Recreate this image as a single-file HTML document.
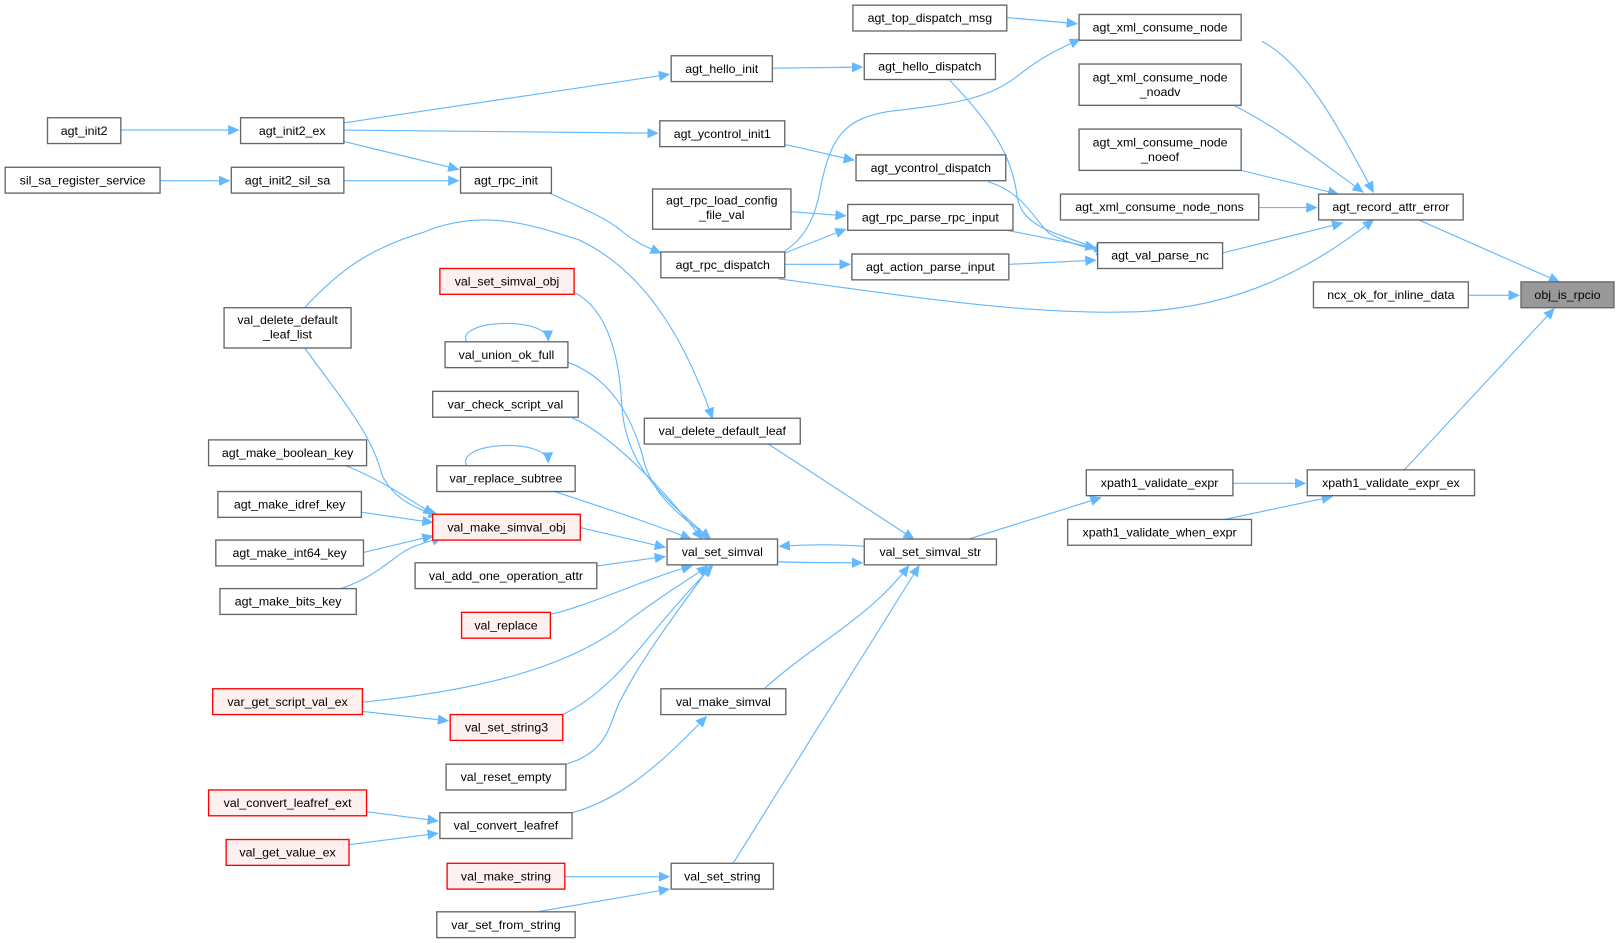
<!DOCTYPE html>
<html><head><meta charset="utf-8"><style>
html,body{margin:0;padding:0;background:#fff;}
svg{display:block;}
text{font-family:"Liberation Sans",Arial,sans-serif;font-size:12px;fill:#000;}
.n{fill:#fff;stroke:#666;stroke-width:1.3;}
.r{fill:#fff0f0;stroke:#f00;stroke-width:1.3;}
.g{fill:#999;stroke:#666;stroke-width:1.3;}
.e{fill:none;stroke:#63b8ff;stroke-width:1.1;marker-end:url(#a);}
</style></head><body>
<svg width="1616" height="943" viewBox="0 0 1565 913.2" preserveAspectRatio="none" xmlns="http://www.w3.org/2000/svg">
<defs><marker id="a" markerWidth="11" markerHeight="10" refX="10" refY="5" orient="auto" markerUnits="userSpaceOnUse"><path d="M0,0 L11,5 L0,10 Z" fill="#63b8ff"/></marker></defs>
<g>
<path class="e" d="M117,126 L231,126"/>
<path class="e" d="M333,119 L648,72"/>
<path class="e" d="M333,126 L637,129"/>
<path class="e" d="M333,137 L444,164"/>
<path class="e" d="M155,175 L222,175"/>
<path class="e" d="M333,175 L444,175"/>
<path class="e" d="M748,66 L835,65"/>
<path class="e" d="M760,140 C790,146 810,152 827,155"/>
<path class="e" d="M530,186 C560,200 585,210 600,222 C615,235 628,240 640,245"/>
<path class="e" d="M766,205 L819,209"/>
<path class="e" d="M760,245 L819,222"/>
<path class="e" d="M760,256 L823,256"/>
<path class="e" d="M760,243 C780,230 790,210 795,180 C805,130 820,115 860,108 C930,100 960,95 990,70 C1010,55 1020,50 1046,38"/>
<path class="e" d="M754,270 C900,290 1000,305 1100,302 C1200,298 1270,260 1330,213"/>
<path class="e" d="M975,17 L1043,23"/>
<path class="e" d="M920,78 C960,120 980,150 985,190 C990,220 1020,225 1070,243"/>
<path class="e" d="M957,176 C990,186 1000,210 1015,225 C1025,232 1045,238 1072,245"/>
<path class="e" d="M975,223 L1061,240"/>
<path class="e" d="M977,256 L1061,252"/>
<path class="e" d="M1222,40 C1260,60 1290,110 1330,186"/>
<path class="e" d="M1195,102 C1240,125 1270,150 1320,186"/>
<path class="e" d="M1202,165 L1296,188"/>
<path class="e" d="M1219,201 L1275,201"/>
<path class="e" d="M1184,245 L1300,216"/>
<path class="e" d="M1374,213 L1510,273"/>
<path class="e" d="M1422,286 L1471,286"/>
<path class="e" d="M1360,455 L1505,299"/>
<path class="e" d="M1194,468 L1264,468"/>
<path class="e" d="M1186,503 L1290,481"/>
<path class="e" d="M938,522 L1066,482"/>
<path class="e" d="M837,529 C810,527 785,527 755,529"/>
<path class="e" d="M753,544 C780,545 810,545 835,545"/>
<path class="e" d="M744,430 L885,522"/>
<path class="e" d="M295,298 C330,260 360,240 410,225 C470,200 520,220 560,232 C620,260 660,320 690,405"/>
<path class="e" d="M295,337 C330,385 360,420 370,460 C380,480 395,490 425,500"/>
<path class="e" d="M556,283 C590,300 600,350 602,390 C605,450 640,480 688,522"/>
<path class="e" d="M548,350 C590,365 610,400 622,440 C630,480 660,500 688,522"/>
<path class="e" d="M553,404 C590,420 640,470 680,522"/>
<path class="e" d="M537,476 C580,490 640,510 669,522"/>
<path class="e" d="M452,331 C440,310 530,305 531,330"/>
<path class="e" d="M452,451 C440,428 530,423 531,448"/>
<path class="e" d="M335,451 C370,465 390,480 420,498"/>
<path class="e" d="M350,496 L419,506"/>
<path class="e" d="M352,535 L419,519"/>
<path class="e" d="M330,570 C360,560 375,545 390,535 C400,528 415,525 428,520"/>
<path class="e" d="M562,511 L644,530"/>
<path class="e" d="M578,548 L644,539"/>
<path class="e" d="M533,595 C575,585 620,562 670,548"/>
<path class="e" d="M351,680 C450,670 550,650 610,600 C650,570 670,560 685,548"/>
<path class="e" d="M351,689 L434,698"/>
<path class="e" d="M545,692 C600,665 620,620 690,548"/>
<path class="e" d="M548,740 C590,728 590,700 600,680 C620,640 650,600 688,548"/>
<path class="e" d="M740,667 C790,622 840,600 880,548"/>
<path class="e" d="M554,787 C600,775 640,740 684,694"/>
<path class="e" d="M355,786 L424,795"/>
<path class="e" d="M338,818 L424,807"/>
<path class="e" d="M547,849 L648,849"/>
<path class="e" d="M520,883 L648,861"/>
<path class="e" d="M710,836 L890,548"/>
</g>
<g>
<rect class="n" x="46" y="114" width="71" height="25"/><text x="81.5" y="130.5" text-anchor="middle">agt_init2</text>
<rect class="n" x="233" y="114" width="100" height="25"/><text x="283" y="130.5" text-anchor="middle">agt_init2_ex</text>
<rect class="n" x="5" y="162" width="150" height="25"/><text x="80" y="178.5" text-anchor="middle">sil_sa_register_service</text>
<rect class="n" x="224" y="162" width="109" height="25"/><text x="278.5" y="178.5" text-anchor="middle">agt_init2_sil_sa</text>
<rect class="n" x="650" y="54" width="98" height="25"/><text x="699" y="70.5" text-anchor="middle">agt_hello_init</text>
<rect class="n" x="639" y="117" width="121" height="25"/><text x="699.5" y="133.5" text-anchor="middle">agt_ycontrol_init1</text>
<rect class="n" x="446" y="162" width="88" height="25"/><text x="490" y="178.5" text-anchor="middle">agt_rpc_init</text>
<rect class="n" x="632" y="183" width="134" height="39"/><text x="699" y="198" text-anchor="middle">agt_rpc_load_config</text><text x="699" y="212" text-anchor="middle">_file_val</text>
<rect class="n" x="640" y="244" width="120" height="25"/><text x="700" y="260.5" text-anchor="middle">agt_rpc_dispatch</text>
<rect class="r" x="426" y="260" width="130" height="25"/><text x="491" y="276.5" text-anchor="middle">val_set_simval_obj</text>
<rect class="n" x="217" y="298" width="123" height="39"/><text x="278.5" y="314" text-anchor="middle">val_delete_default</text><text x="278.5" y="328" text-anchor="middle">_leaf_list</text>
<rect class="n" x="431" y="331" width="119" height="25"/><text x="490.5" y="347.5" text-anchor="middle">val_union_ok_full</text>
<rect class="n" x="419" y="379" width="141" height="25"/><text x="489.5" y="395.5" text-anchor="middle">var_check_script_val</text>
<rect class="n" x="624" y="405" width="151" height="25"/><text x="699.5" y="421.5" text-anchor="middle">val_delete_default_leaf</text>
<rect class="n" x="202" y="426" width="153" height="25"/><text x="278.5" y="442.5" text-anchor="middle">agt_make_boolean_key</text>
<rect class="n" x="423" y="451" width="134" height="25"/><text x="490" y="467.5" text-anchor="middle">var_replace_subtree</text>
<rect class="n" x="211" y="476" width="139" height="25"/><text x="280.5" y="492.5" text-anchor="middle">agt_make_idref_key</text>
<rect class="r" x="419" y="498" width="143" height="25"/><text x="490.5" y="514.5" text-anchor="middle">val_make_simval_obj</text>
<rect class="n" x="646" y="522" width="107" height="25"/><text x="699.5" y="538.5" text-anchor="middle">val_set_simval</text>
<rect class="n" x="209" y="523" width="143" height="25"/><text x="280.5" y="539.5" text-anchor="middle">agt_make_int64_key</text>
<rect class="n" x="402" y="545" width="176" height="25"/><text x="490" y="561.5" text-anchor="middle">val_add_one_operation_attr</text>
<rect class="n" x="213" y="570" width="132" height="25"/><text x="279" y="586.5" text-anchor="middle">agt_make_bits_key</text>
<rect class="r" x="447" y="593" width="86" height="25"/><text x="490" y="609.5" text-anchor="middle">val_replace</text>
<rect class="r" x="206" y="667" width="145" height="25"/><text x="278.5" y="683.5" text-anchor="middle">var_get_script_val_ex</text>
<rect class="n" x="640" y="667" width="121" height="25"/><text x="700.5" y="683.5" text-anchor="middle">val_make_simval</text>
<rect class="r" x="436" y="692" width="109" height="25"/><text x="490.5" y="708.5" text-anchor="middle">val_set_string3</text>
<rect class="n" x="432" y="740" width="116" height="25"/><text x="490" y="756.5" text-anchor="middle">val_reset_empty</text>
<rect class="r" x="202" y="765" width="153" height="25"/><text x="278.5" y="781.5" text-anchor="middle">val_convert_leafref_ext</text>
<rect class="n" x="426" y="787" width="128" height="25"/><text x="490" y="803.5" text-anchor="middle">val_convert_leafref</text>
<rect class="r" x="219" y="813" width="119" height="25"/><text x="278.5" y="829.5" text-anchor="middle">val_get_value_ex</text>
<rect class="r" x="433" y="836" width="114" height="25"/><text x="490" y="852.5" text-anchor="middle">val_make_string</text>
<rect class="n" x="650" y="836" width="99" height="25"/><text x="699.5" y="852.5" text-anchor="middle">val_set_string</text>
<rect class="n" x="423" y="883" width="134" height="25"/><text x="490" y="899.5" text-anchor="middle">var_set_from_string</text>
<rect class="n" x="826" y="5" width="149" height="25"/><text x="900.5" y="21.5" text-anchor="middle">agt_top_dispatch_msg</text>
<rect class="n" x="1045" y="14" width="157" height="25"/><text x="1123.5" y="30.5" text-anchor="middle">agt_xml_consume_node</text>
<rect class="n" x="837" y="52" width="127" height="25"/><text x="900.5" y="68.5" text-anchor="middle">agt_hello_dispatch</text>
<rect class="n" x="1045" y="62" width="157" height="40"/><text x="1123.5" y="79" text-anchor="middle">agt_xml_consume_node</text><text x="1123.5" y="93" text-anchor="middle">_noadv</text>
<rect class="n" x="1045" y="125" width="157" height="40"/><text x="1123.5" y="142" text-anchor="middle">agt_xml_consume_node</text><text x="1123.5" y="156" text-anchor="middle">_noeof</text>
<rect class="n" x="829" y="150" width="145" height="25"/><text x="901.5" y="166.5" text-anchor="middle">agt_ycontrol_dispatch</text>
<rect class="n" x="1027" y="188" width="192" height="25"/><text x="1123" y="204.5" text-anchor="middle">agt_xml_consume_node_nons</text>
<rect class="n" x="1277" y="188" width="140" height="25"/><text x="1347" y="204.5" text-anchor="middle">agt_record_attr_error</text>
<rect class="n" x="821" y="198" width="160" height="25"/><text x="901" y="214.5" text-anchor="middle">agt_rpc_parse_rpc_input</text>
<rect class="n" x="1063" y="235" width="121" height="25"/><text x="1123.5" y="251.5" text-anchor="middle">agt_val_parse_nc</text>
<rect class="n" x="825" y="246" width="152" height="25"/><text x="901" y="262.5" text-anchor="middle">agt_action_parse_input</text>
<rect class="n" x="1272" y="273" width="150" height="25"/><text x="1347" y="289.5" text-anchor="middle">ncx_ok_for_inline_data</text>
<rect class="g" x="1473" y="273" width="90" height="25"/><text x="1518" y="289.5" text-anchor="middle">obj_is_rpcio</text>
<rect class="n" x="837" y="522" width="128" height="25"/><text x="901" y="538.5" text-anchor="middle">val_set_simval_str</text>
<rect class="n" x="1052" y="455" width="142" height="25"/><text x="1123" y="471.5" text-anchor="middle">xpath1_validate_expr</text>
<rect class="n" x="1266" y="455" width="162" height="25"/><text x="1347" y="471.5" text-anchor="middle">xpath1_validate_expr_ex</text>
<rect class="n" x="1034" y="503" width="178" height="25"/><text x="1123" y="519.5" text-anchor="middle">xpath1_validate_when_expr</text>
</g>
</svg>
</body></html>
